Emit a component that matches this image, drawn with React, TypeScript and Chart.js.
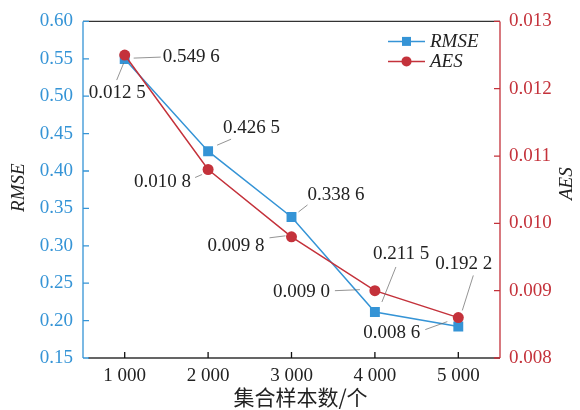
import { useEffect, useRef } from 'react';
import { Chart, registerables } from 'chart.js';

Chart.register(...registerables);

const categories = ['1 000', '2 000', '3 000', '4 000', '5 000'];
const rmseValues = [0.5496, 0.4265, 0.3386, 0.2115, 0.1922];
const aesValues = [0.0125, 0.0108, 0.0098, 0.009, 0.0086];
const rmseTicks = [0.15, 0.2, 0.25, 0.3, 0.35, 0.4, 0.45, 0.5, 0.55, 0.6];
const aesTicks = [0.008, 0.009, 0.01, 0.011, 0.012, 0.013];
const xTitle = '集合样本数/个';
const rmseTitle = 'RMSE';
const aesTitle = 'AES';

const BLUE = '#3594d6';
const RED = '#c4323b';
const TEXT = '#222222';
const SERIF = '"Liberation Serif", "DejaVu Serif", serif';

// label placement relative to each point: text offset, leader line start/end
const rmsePlace = [
  { dx: 38, dy: -2, a: [9, -1], b: [36, -2] },
  { dx: 15, dy: -23, a: [9, -6], b: [23, -12] },
  { dx: 16, dy: -22, a: [7, -5], b: [16, -12] },
  { dx: -2, dy: -58, a: [7, -10], b: [21, -45] },
  { dx: -23, dy: -62, a: [4, -16], b: [15, -51] },
];
const aesPlace = [
  { dx: -36, dy: 38, a: [-8, 25], b: [-1, 8] },
  { dx: -74, dy: 13, a: [-13, 8], b: [-6, 5] },
  { dx: -84, dy: 9, a: [-22, 1], b: [-6, -1] },
  { dx: -102, dy: 1, a: [-40, 0], b: [-15, -1] },
  { dx: -95, dy: 15, a: [-33, 12], b: [-11, 4] },
];

const fmt = (v: number) => {
  const s = v.toFixed(4);
  return s.slice(0, 5) + ' ' + s.slice(5);
};

const overlay = {
  id: 'overlay',
  beforeDatasetsDraw(chart: any) {
    const { ctx, chartArea } = chart;
    const { left, right, top, bottom } = chartArea;
    const x = chart.scales.x;
    const y = chart.scales.y;
    const y1 = chart.scales.y1;
    ctx.save();
    ctx.lineWidth = 1.3;
    ctx.strokeStyle = '#333333';
    ctx.beginPath();
    ctx.moveTo(left, top);
    ctx.lineTo(right, top);
    ctx.moveTo(left + 5, bottom);
    ctx.lineTo(right, bottom);
    ctx.stroke();
    ctx.strokeStyle = '#111111';
    ctx.beginPath();
    categories.forEach((_, i) => {
      const px = x.getPixelForValue(i);
      ctx.moveTo(px, bottom);
      ctx.lineTo(px, bottom - 6);
    });
    ctx.stroke();
    ctx.strokeStyle = BLUE;
    ctx.beginPath();
    ctx.moveTo(left, top);
    ctx.lineTo(left, bottom);
    rmseTicks.forEach((t) => {
      const py = y.getPixelForValue(t);
      ctx.moveTo(left, py);
      ctx.lineTo(left + 6, py);
    });
    ctx.stroke();
    ctx.strokeStyle = RED;
    ctx.beginPath();
    ctx.moveTo(right, top);
    ctx.lineTo(right, bottom);
    aesTicks.forEach((t) => {
      const py = y1.getPixelForValue(t);
      ctx.moveTo(right, py);
      ctx.lineTo(right - 6, py);
    });
    ctx.stroke();
    ctx.restore();
  },
  afterDatasetsDraw(chart: any) {
    const { ctx, chartArea } = chart;
    ctx.save();
    const drawLabels = (dsIndex: number, values: number[], place: any[]) => {
      const meta = chart.getDatasetMeta(dsIndex);
      values.forEach((v, i) => {
        const p = meta.data[i];
        const pl = place[i];
        ctx.strokeStyle = '#666666';
        ctx.lineWidth = 0.7;
        ctx.beginPath();
        ctx.moveTo(p.x + pl.a[0], p.y + pl.a[1]);
        ctx.lineTo(p.x + pl.b[0], p.y + pl.b[1]);
        ctx.stroke();
        ctx.fillStyle = TEXT;
        ctx.font = `19px ${SERIF}`;
        ctx.textAlign = 'left';
        ctx.textBaseline = 'middle';
        ctx.fillText(fmt(v), p.x + pl.dx, p.y + pl.dy);
      });
    };
    drawLabels(1, rmseValues, rmsePlace);
    drawLabels(0, aesValues, aesPlace);

    const legend = [
      { label: rmseTitle, color: BLUE, shape: 'rect' },
      { label: aesTitle, color: RED, shape: 'circle' },
    ];
    legend.forEach((it, i) => {
      const ly = chartArea.top + 20 + i * 20;
      const lx = chartArea.right - 112;
      ctx.strokeStyle = it.color;
      ctx.lineWidth = 1.5;
      ctx.beginPath();
      ctx.moveTo(lx, ly);
      ctx.lineTo(lx + 37, ly);
      ctx.stroke();
      ctx.fillStyle = it.color;
      ctx.beginPath();
      if (it.shape === 'rect') ctx.rect(lx + 18.5 - 4.5, ly - 4.5, 9, 9);
      else ctx.arc(lx + 18.5, ly, 5, 0, Math.PI * 2);
      ctx.fill();
      ctx.fillStyle = TEXT;
      ctx.font = `italic 19px ${SERIF}`;
      ctx.textAlign = 'left';
      ctx.textBaseline = 'middle';
      ctx.fillText(it.label, lx + 42, ly + 1);
    });

    const midY = (chartArea.top + chartArea.bottom) / 2;
    ctx.fillStyle = TEXT;
    ctx.font = `italic 19px ${SERIF}`;
    ctx.textAlign = 'center';
    ctx.textBaseline = 'middle';
    ctx.save();
    ctx.translate(19, midY - 2);
    ctx.rotate(-Math.PI / 2);
    ctx.fillText(rmseTitle, 0, 0);
    ctx.restore();
    ctx.save();
    ctx.translate(567, midY - 6);
    ctx.rotate(-Math.PI / 2);
    ctx.fillText(aesTitle, 0, 0);
    ctx.restore();
    ctx.font = `21px "Noto Sans CJK SC", sans-serif`;
    ctx.fillText(xTitle, (chartArea.left + chartArea.right) / 2 + 9, 397);
    ctx.restore();
  },
};

export default function App() {
  const ref = useRef<HTMLCanvasElement | null>(null);
  useEffect(() => {
    if (!ref.current) return;
    const chart = new Chart(ref.current, {
      type: 'line',
      data: {
        labels: categories,
        datasets: [
          {
            label: aesTitle,
            data: aesValues,
            yAxisID: 'y1',
            borderColor: RED,
            backgroundColor: RED,
            borderWidth: 1.5,
            pointStyle: 'circle',
            pointRadius: 5.5,
            pointBorderWidth: 0,
            tension: 0,
            order: 0,
          },
          {
            label: rmseTitle,
            data: rmseValues,
            yAxisID: 'y',
            borderColor: BLUE,
            backgroundColor: BLUE,
            borderWidth: 1.5,
            pointStyle: 'rect',
            pointRadius: 7,
            pointBorderWidth: 0,
            tension: 0,
            order: 1,
          },
        ],
      },
      options: {
        responsive: false,
        animation: false,
        layout: { padding: { top: 21, left: 0, right: 0, bottom: 0 } },
        plugins: { legend: { display: false }, tooltip: { enabled: false } },
        scales: {
          x: {
            type: 'category',
            offset: true,
            grid: { display: false, drawTicks: false },
            border: { display: false },
            ticks: { color: TEXT, font: { family: SERIF, size: 19 }, padding: 7, maxRotation: 0 },
            afterFit: (s: any) => { s.height = 52; },
          },
          y: {
            position: 'left',
            min: rmseTicks[0],
            max: rmseTicks[rmseTicks.length - 1],
            grid: { display: false, drawTicks: false },
            border: { display: false },
            ticks: {
              stepSize: 0.05,
              color: BLUE,
              font: { family: SERIF, size: 19 },
              padding: 10,
              callback: (v: any) => Number(v).toFixed(2),
            },
            afterFit: (s: any) => { s.width = 83; },
          },
          y1: {
            position: 'right',
            min: aesTicks[0],
            max: aesTicks[aesTicks.length - 1],
            grid: { display: false, drawTicks: false },
            border: { display: false },
            ticks: {
              stepSize: 0.001,
              color: RED,
              font: { family: SERIF, size: 19 },
              padding: 9,
              callback: (v: any) => Number(v).toFixed(3),
            },
            afterFit: (s: any) => { s.width = 80; },
          },
        },
      },
      plugins: [overlay],
    });
    return () => chart.destroy();
  }, []);
  return (
    <div style={{ position: 'fixed', left: 0, top: 0, width: 580, height: 410, background: '#fff' }}>
      <canvas ref={ref} width={580} height={410} style={{ width: 580, height: 410 }} />
    </div>
  );
}
